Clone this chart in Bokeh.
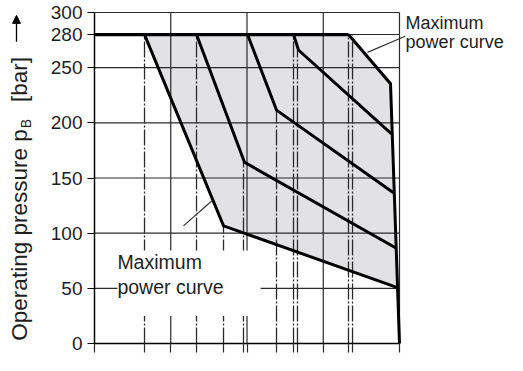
import math
from bokeh.plotting import figure
from bokeh.models import (Range1d, FixedTicker, Label, Arrow, NormalHead, BoxAnnotation,
                          CustomJSTickFormatter)
from bokeh.embed import file_html
from bokeh.resources import INLINE

# ---------------- data ----------------
y_ticks = [0, 50, 100, 150, 200, 250, 280, 300]
h_grid = [50, 100, 150, 200, 250, 280, 300]
v_grid = [1, 2, 3, 4]

p_max = 280  # maximum operating pressure [bar]

# characteristic curves (x: unlabelled flow axis 0..4, p: bar)
curve1_x = [0.656, 1.692, 3.974]   # lower "maximum power curve"
curve1_p = [280, 106.6, 50.7]
curve2_x = [1.338, 1.967, 3.948]
curve2_p = [280, 164.2, 86.8]
curve3_x = [2.007, 2.387, 3.921]
curve3_p = [280, 211.5, 136.7]
curve4_x = [2.61, 2.675, 3.895]
curve4_p = [280, 266.0, 190.0]
maxpow_x = [3.331, 3.882, 4.0]      # right "maximum power curve"
maxpow_p = [280, 235.5, 0]

# dash-dot reference verticals: x position and top pressure
ref_x = [0.656, 1.338, 1.692, 1.954, 2.387, 2.61, 2.662, 3.331, 3.384]
ref_top = [280, 280, 106.6, 164.2, 211.5, 280, 266.0, 280, 280]

FONT = "Liberation Sans"
TXT = "#1e1e1e"

# ---------------- layout (canvas pixels) ----------------
W, H = 507, 355
FX0, FX1 = 94, 399        # canvas x of x=0 and x=4
FY_TOP, FY_BOT = 12, 343  # canvas y of p=300 and p=0
sx = (FX1 - FX0) / 4.0
sy = (FY_BOT - FY_TOP) / 300.0

def cx(px):  # canvas x -> data x
    return (px - FX0) / sx

p = figure(width=W, height=H,
           x_range=Range1d(-FX0 / sx, (W - FX0) / sx),
           y_range=Range1d(-(H - FY_BOT) / sy, 300 + FY_TOP / sy),
           output_backend="svg", toolbar_location=None,
           min_border_left=0, min_border_right=0, min_border_top=0, min_border_bottom=0)
p.xgrid.visible = False
p.ygrid.visible = False
p.outline_line_color = None
p.background_fill_color = "white"
p.border_fill_color = "white"

ya = p.yaxis[0]
ya.fixed_location = 0
ya.bounds = (0, 300)
ya.ticker = FixedTicker(ticks=y_ticks)
ya.major_tick_out = 7
ya.major_tick_in = 0
ya.minor_tick_line_color = None
ya.axis_line_width = 1.5
ya.axis_line_color = "black"
ya.major_tick_line_color = "black"
ya.major_tick_line_width = 1.2
ya.major_label_text_font = FONT
ya.major_label_text_font_size = "19px"
ya.major_label_text_color = TXT
ya.major_label_standoff = 5

xa = p.xaxis[0]
xa.fixed_location = 0
xa.bounds = (0, 4)
xa.ticker = FixedTicker(ticks=[0] + v_grid + ref_x)
xa.formatter = CustomJSTickFormatter(code="return ''")
xa.major_tick_out = 9
xa.major_tick_in = 0
xa.minor_tick_line_color = None
xa.axis_line_width = 1.5
xa.axis_line_color = "black"
xa.major_tick_line_color = "#2a2a2a"
xa.major_tick_line_width = 1.2
xa.major_label_standoff = 0

# shaded operating region
shade_x = [curve1_x[0], maxpow_x[0], maxpow_x[1], curve1_x[2], curve1_x[1]]
shade_p = [p_max, p_max, maxpow_p[1], curve1_p[2], curve1_p[1]]
p.patch(shade_x, shade_p, fill_color="#e2e1e4", line_color=None)

# grid + frame box
p.segment(x0=[0] * len(h_grid), y0=h_grid, x1=[4] * len(h_grid), y1=h_grid,
          line_color="#2a2a2a", line_width=1.1)
p.segment(x0=v_grid, y0=[0] * len(v_grid), x1=v_grid, y1=[300] * len(v_grid),
          line_color="#2a2a2a", line_width=1.2)

# dash-dot reference lines
p.segment(x0=ref_x, y0=[0] * len(ref_x), x1=ref_x, y1=ref_top,
          line_color="#2a2a2a", line_width=1.3, line_dash="16 2 2 2")

# curves
for xs_, ps_ in [(curve1_x, curve1_p), (curve2_x, curve2_p), (curve3_x, curve3_p),
                 (curve4_x, curve4_p), (maxpow_x, maxpow_p)]:
    p.line(xs_, ps_, line_color="black", line_width=3, line_join="miter")
p.line([0, maxpow_x[0]], [p_max, p_max], line_color="black", line_width=3.2)

# white box behind lower-left annotation
p.add_layout(BoxAnnotation(left=0.30, right=2.18, bottom=24.9, top=84.2,
                           fill_color="white", fill_alpha=1, line_color=None))

# annotations (anchor = visual middle of the text line)
def lab(x, y, text, size="20px", **kw):
    p.add_layout(Label(x=x, y=y, text=text, text_font=FONT, text_font_size=size,
                       text_color=TXT, text_baseline="middle", **kw))

lab(4.08, 290.3, "Maximum", "18px")
lab(4.08, 273.1, "power curve", "18px")
lab(0.30, 73.9, "Maximum", "19.5px")
lab(0.30, 51.6, "power curve", "19.5px")

p.add_layout(Arrow(end=None, x_start=1.167, y_start=106.6, x_end=1.548, y_end=129.8,
                   line_color="#333333", line_width=1.2))
p.add_layout(Arrow(end=None, x_start=3.58, y_start=263.9, x_end=4.075, y_end=278.5,
                   line_color="#333333", line_width=1.2))

# y axis title (rotated), with subscript and arrow
T_FS = 22.5
t_start = 2.58
b_start = t_start + (9.393 * T_FS + 1) / sy
bar_start = b_start + (0.667 * 14 + 17) / sy
lab(cx(18.5), t_start, "Operating pressure p", f"{T_FS}px", angle=math.pi / 2, text_align="left")
lab(cx(25), b_start, "B", "14px", angle=math.pi / 2, text_align="left")
lab(cx(18.5), bar_start, "[bar]", f"{T_FS}px", angle=math.pi / 2, text_align="left")
p.add_layout(Arrow(end=NormalHead(size=8, fill_color="black", line_color="black"),
                   x_start=cx(16), y_start=273.4, x_end=cx(16), y_end=297.4,
                   line_color="black", line_width=1.3))

open("out.html", "w").write(file_html(p, INLINE))
